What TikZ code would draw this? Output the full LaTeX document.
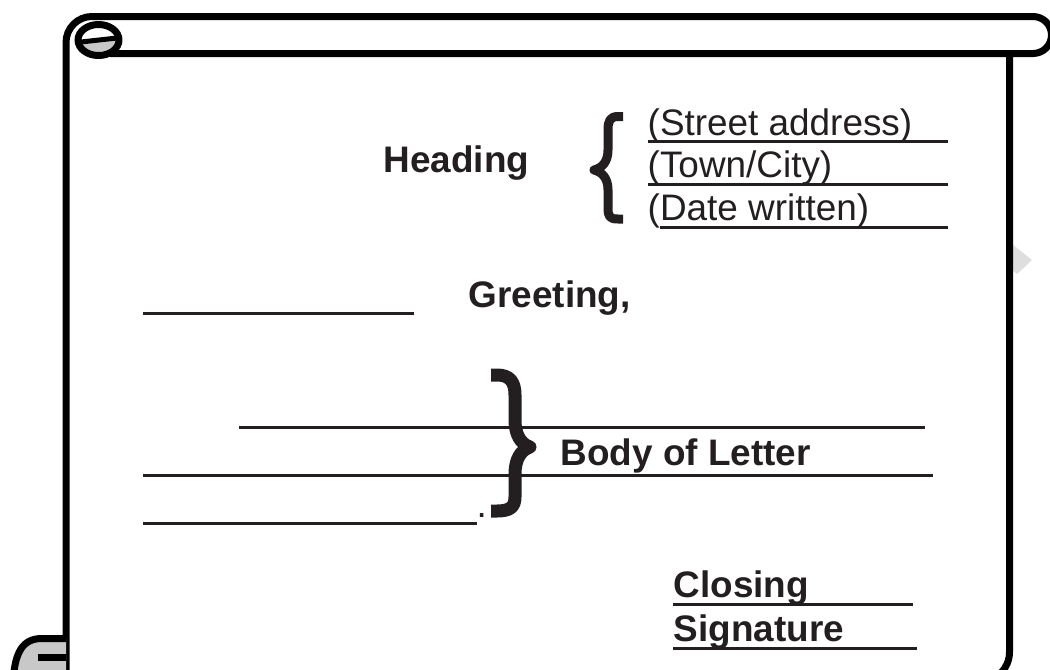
\documentclass[tikz,border=0pt]{standalone}
\usepackage{fontspec}
\setmainfont{Liberation Sans}
\usepackage{xcolor}
\usepackage{tikz}
\definecolor{inkcolor}{RGB}{35,31,32}
\definecolor{rollcolor}{RGB}{200,200,200}
\definecolor{markcolor}{RGB}{222,222,222}

\begin{document}
\begin{tikzpicture}[
    x=0.1mm, y=-0.1mm,
    boldtext/.style={anchor=base west, inner sep=0pt, text=inkcolor, font=\fontsize{10.5}{12}\selectfont\bfseries},
    plaintext/.style={anchor=base west, inner sep=0pt, text=inkcolor, font=\fontsize{10.5}{12}\selectfont},
    writeline/.style={line width=0.3mm, inkcolor},
    scrollline/.style={line width=0.7mm, black, line join=round},
    bracestroke/.style={inkcolor, line join=round}
]
    \clip (0,0) rectangle (1050,669);

    % scroll
    \fill[markcolor] (1012,244) -- (1032,260) -- (1017,274) -- (1012,270) -- cycle;
    \draw[scrollline] (66,690) -- (66,42.5) arc[start angle=180, end angle=270, radius=26]
        -- (1033,16.5) arc[start angle=-90, end angle=90, radius=18.5] -- (110,53.5);
    \fill[rollcolor] (80,42) .. controls (83,56) and (114,56) .. (117,38) -- cycle;
    \draw[scrollline] (98.5,40) ellipse[x radius=20.5, y radius=15.5];
    \draw[scrollline, line width=0.5mm] (81,42) -- (117,38);
    \draw[scrollline] (1009.5,53.5) -- (1009.5,652) arc[start angle=0, end angle=90, radius=30] -- (66,682);
    \fill[rollcolor] (66,638.5) -- (42,638.5) .. controls (24,638.5) and (13,650) .. (13,690) -- (66,690) -- cycle;
    \draw[scrollline] (66,638.5) -- (42,638.5) .. controls (24,638.5) and (13,650) .. (13,690);
    \draw[scrollline] (38,657.5) -- (66,657.5);

    % heading
    \node[boldtext] (heading) at (383,172) {Heading};
    \draw[bracestroke, line width=0.9mm] (623,116.5) -- (618,116.5) .. controls (610,116.5) and (608,121) .. (608,130)
        -- (608,150) .. controls (608,162) and (602,168) .. (594,170) .. controls (602,172) and (608,178) .. (608,190)
        -- (608,208) .. controls (608,217) and (610,219) .. (618,219) -- (623,219);
    \node[plaintext] (street) at (647,135) {(Street address)};
    \node[plaintext] (town) at (647,177) {(Town/City)};
    \node[plaintext] (date) at (647,220) {(Date written)};
    \draw[writeline] (648,141.5) -- (948,141.5);
    \draw[writeline] (648,184.5) -- (948,184.5);
    \draw[writeline] (660,227) -- (948,227);

    % greeting
    \draw[writeline] (143,313) -- (414,313);
    \node[boldtext] (greeting) at (468,307) {Greeting,};

    % body
    \draw[writeline] (239,427) -- (925,427);
    \draw[writeline] (143,475) -- (933,475);
    \draw[writeline] (143,523) -- (477,523);
    \node[plaintext] (stop) at (476,517) {.};
    \draw[bracestroke, line width=1.3mm] (491,375) -- (497,375) .. controls (510,375) and (515,382) .. (515,395)
        -- (515,420) .. controls (515,435) and (521,444) .. (530,447) .. controls (521,450) and (515,459) .. (515,474)
        -- (515,497) .. controls (515,507) and (510,511) .. (497,511) -- (491,511);
    \node[boldtext] (body) at (560,465) {Body of Letter};

    % closing
    \node[boldtext] (closing) at (673,597) {Closing};
    \node[boldtext] (signature) at (673,641) {Signature};
    \draw[writeline] (673,604) -- (913,604);
    \draw[writeline] (673,648) -- (917,648);
\end{tikzpicture}
\end{document}
